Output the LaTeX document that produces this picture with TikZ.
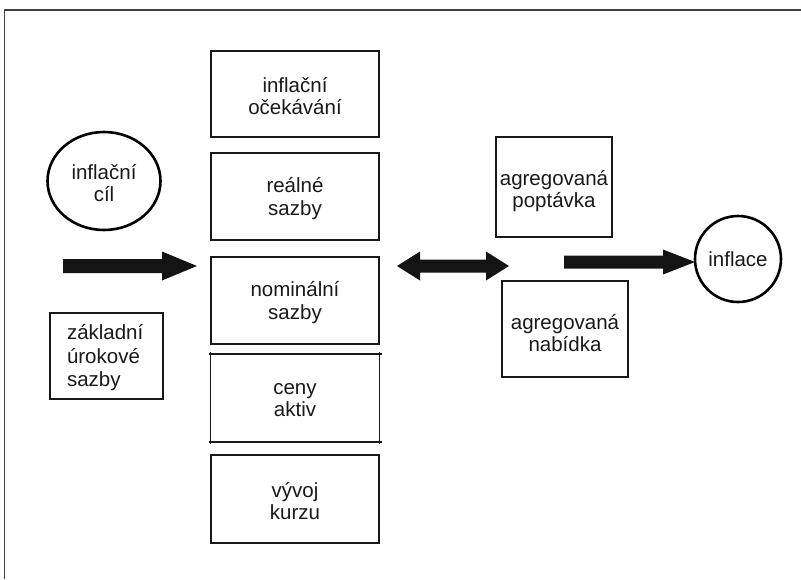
\documentclass[tikz,border=0pt]{standalone}
\usepackage{fontspec}
\setmainfont{Liberation Sans}
\usetikzlibrary{calc,shapes.geometric}
\begin{document}
\begin{tikzpicture}[x=1pt,y=-1pt,
  every node/.style={inner sep=0pt, outer sep=0pt},
  txt/.style={font=\fontsize{20.5}{22.5}\selectfont, align=center, text=black!90},
  box/.style={draw=black!90, line width=1.5pt, rectangle},
  ring/.style={draw=black, line width=2.6pt, ellipse},
  fat/.style={fill=black!92, draw=none},
  edge4/.style={draw=black!90, line width=1.9pt},
]
\useasboundingbox (0,0) rectangle (801,579);
\draw[line width=1.3pt, black!75] (4.5,579) -- (4.5,10) -- (801,10);

% left column
\node[box, minimum width=168pt, minimum height=86pt] (b1) at (295,94) {};
\node[txt] (t1) at ($(b1)+(0,2)$) {inflační\\očekávání};
\node[box, minimum width=168pt, minimum height=87pt] (b2) at (295,196.5) {};
\node[txt] (t2) at ($(b2)+(0,2)$) {reálné\\sazby};
\node[box, minimum width=168pt, minimum height=87pt] (b3) at (295,300.5) {};
\node[txt] (t3) at ($(b3)+(0,2)$) {nominální\\sazby};
\node[minimum width=169pt, minimum height=88pt] (b4) at (295,398) {};
\draw[edge4] ($(b4.north west)+(-2,0)$) -- ($(b4.north east)+(2,0)$);
\draw[edge4] ($(b4.south west)+(-2,0)$) -- ($(b4.south east)+(2,0)$);
\draw[box] ($(b4.north west)+(0,-2)$) -- ($(b4.south west)+(0,2)$);
\draw[box] ($(b4.north east)+(0,-2)$) -- ($(b4.south east)+(0,2)$);
\node[txt] (t4) at ($(b4)+(0,2)$) {ceny\\aktiv};
\node[box, minimum width=168pt, minimum height=88pt] (b5) at (295,499) {};
\node[txt] (t5) at ($(b5)+(0,2)$) {vývoj\\kurzu};

% goal ellipse
\node[ring, minimum width=113pt, minimum height=98pt] (goal) at (104,181) {};
\node[txt] (tg) at ($(goal)+(0,2)$) {inflační\\cíl};

% base rates
\node[box, minimum width=113pt, minimum height=86pt] (base) at (106.5,356) {};
\node[txt, align=left, anchor=west, font=\fontsize{20.5}{23.5}\selectfont] (tb) at (67,358) {základní\\úrokové\\sazby};

% right boxes
\node[box, minimum width=116pt, minimum height=100pt] (ad) at (554,187) {};
\node[txt] (tad) at ($(ad)+(0,4)$) {agregovaná\\poptávka};
\node[box, minimum width=126pt, minimum height=96pt] (as) at (565,329) {};
\node[txt] (tas) at ($(as)+(0,4)$) {agregovaná\\nabídka};

% inflation circle
\node[ring, circle, minimum size=86pt] (infl) at (738,259) {};
\node[txt] (ti) at (infl) {inflace};

% left arrow
\coordinate (la0) at (63,266);
\coordinate (la1) at (197,266);
\fill[fat] ($(la0)+(0,-7)$) -- ($(la1)+(-35,-7)$) -- ($(la1)+(-35,-14.5)$) -- (la1)
  -- ($(la1)+(-35,14.5)$) -- ($(la1)+(-35,7)$) -- ($(la0)+(0,7)$) -- cycle;

% double arrow
\coordinate (da0) at (397,266);
\coordinate (da1) at (509,266);
\fill[fat] (da0) -- ($(da0)+(23,-14.5)$) -- ($(da0)+(23,-6.5)$) -- ($(da1)+(-23,-6.5)$)
  -- ($(da1)+(-23,-14.5)$) -- (da1) -- ($(da1)+(-23,14.5)$) -- ($(da1)+(-23,6.5)$)
  -- ($(da0)+(23,6.5)$) -- ($(da0)+(23,14.5)$) -- cycle;

% right arrow
\coordinate (ra0) at (564,262);
\coordinate (ra1) at (695,262);
\fill[fat] ($(ra0)+(0,-6.5)$) -- ($(ra1)+(-32,-6.5)$) -- ($(ra1)+(-32,-12.5)$) -- (ra1)
  -- ($(ra1)+(-32,12.5)$) -- ($(ra1)+(-32,6.5)$) -- ($(ra0)+(0,6.5)$) -- cycle;
\end{tikzpicture}
\end{document}
